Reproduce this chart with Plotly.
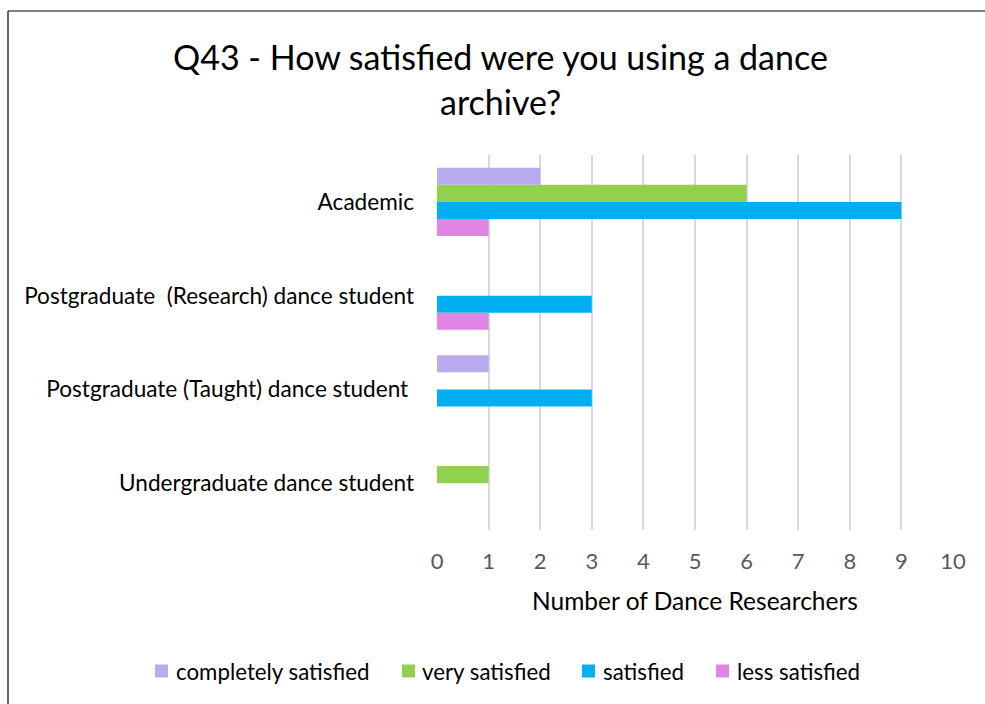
import plotly.graph_objects as go

# Survey responses: number of dance researchers per satisfaction level
categories = [
    "Academic",
    "Postgraduate\u00a0\u00a0(Research) dance student",
    "Postgraduate (Taught) dance student\u00a0",
    "Undergraduate dance student",
]
series_names = ["completely satisfied", "very satisfied", "satisfied", "less satisfied"]
completely_satisfied = [2, 0, 1, 0]
very_satisfied = [6, 0, 0, 1]
satisfied = [9, 3, 3, 0]
less_satisfied = [1, 1, 0, 0]
x_ticks = list(range(0, 11))
title_lines = ["Q43 - How satisfied were you using a dance", "archive?"]

colors = ["#B9ABEE", "#92D050", "#00B0F0", "#E085E3"]
values = [completely_satisfied, very_satisfied, satisfied, less_satisfied]

FONT = "Lato, 'Open Sans', sans-serif"

fig = go.Figure()
for name, vals, col in zip(series_names, values, colors):
    fig.add_trace(go.Bar(
        y=categories, x=vals, name=name, orientation="h",
        marker=dict(color=col, line=dict(width=0)),
        showlegend=False,
    ))

W, H = 985, 704
ml, mr, mt, mb = 437, 32, 155, 174
pw, ph = W - ml - mr, H - mt - mb

fig.update_layout(
    width=W, height=H,
    margin=dict(l=ml, r=mr, t=mt, b=mb),
    paper_bgcolor="white", plot_bgcolor="white",
    barmode="group", bargap=0.27, bargroupgap=0,
    font=dict(family=FONT, color="#000000"),
    xaxis=dict(
        range=[0, 10], tickvals=x_ticks, ticktext=[str(v) for v in x_ticks],
        showgrid=True, gridcolor="#D9D9D9", gridwidth=1.5,
        zeroline=False, showline=False,
        tickfont=dict(size=22, color="#595959"),
        ticklabelstandoff=16,
        title=dict(text="Number of Dance Researchers",
                   font=dict(size=24.5, color="#000000"), standoff=19),
        ticks="", fixedrange=True,
    ),
    yaxis=dict(
        categoryorder="array", categoryarray=categories, autorange="reversed",
        showgrid=False, zeroline=False, showline=False, ticks="",
        tickfont=dict(size=22.6, color="#000000"),
        ticklabelstandoff=22,
    ),
    showlegend=False,
)

# Two-line centred title
for text, yc in zip(title_lines, [57, 101]):
    fig.add_annotation(
        text=text, xref="paper", yref="paper",
        x=(500 - ml) / pw, y=(H - mb - yc) / ph,
        xanchor="center", yanchor="middle", showarrow=False,
        font=dict(size=34, color="#000000", family=FONT),
    )

# Legend row: coloured square followed by series name
legend_sq_x = [155, 402, 582, 716]
legend_txt_x = [174, 420, 601, 735]
legend_y = 671
sq = 13
for name, col, sx, tx in zip(series_names, colors, legend_sq_x, legend_txt_x):
    fig.add_shape(
        type="rect", xref="paper", yref="paper",
        x0=(sx - ml) / pw, x1=(sx + sq - ml) / pw,
        y0=(H - mb - (legend_y - sq / 2)) / ph, y1=(H - mb - (legend_y + sq / 2)) / ph,
        fillcolor=col, line=dict(width=0),
    )
    fig.add_annotation(
        text=name, xref="paper", yref="paper",
        x=(tx - ml) / pw, y=(H - mb - legend_y) / ph,
        xanchor="left", yanchor="middle", showarrow=False,
        font=dict(size=22.3, color="#000000", family=FONT),
    )

# Outer frame lines (top and left)
x_left = (8 - ml) / pw
y_top = (H - mb - 11) / ph
fig.add_shape(type="line", xref="paper", yref="paper", x0=x_left, x1=(W - ml) / pw,
              y0=y_top, y1=y_top, line=dict(color="#000000", width=1.2))
fig.add_shape(type="line", xref="paper", yref="paper", x0=x_left, x1=x_left,
              y0=y_top, y1=-(mb + 5) / ph, line=dict(color="#000000", width=1.2))

fig.write_html("out.html")
